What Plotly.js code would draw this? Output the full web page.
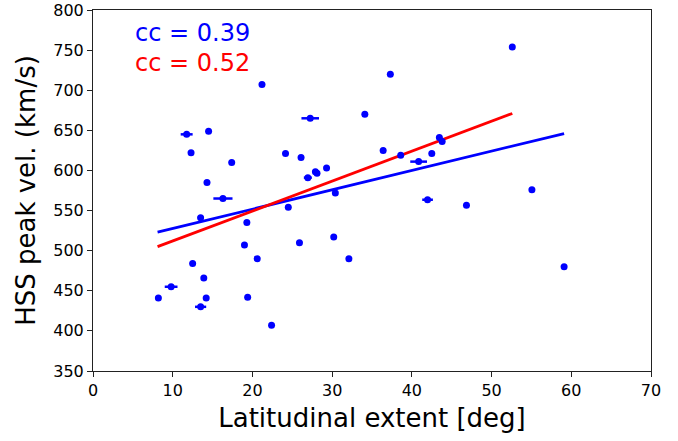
<!DOCTYPE html>
<html>
<head>
<meta charset="utf-8">
<script src="https://cdn.plot.ly/plotly-3.0.1.min.js"></script>
<style>html,body{margin:0;padding:0;background:#fff;}#chart{width:678px;height:441px;}</style>
</head>
<body>
<div id="chart"></div>
<script>
// Latitudinal extent [deg]
const latExtent = [8.2, 9.8, 12.5, 13.9, 14.2, 13.5, 13.5, 14.3, 16.3, 19.3, 19.0, 20.6, 19.4, 22.4, 24.5, 25.9,
  21.2, 11.75, 14.5, 12.3, 17.4, 24.15, 26.1, 26.95, 27.25, 52.6, 37.3, 34.1, 43.45, 43.8, 36.4, 38.6, 42.5,
  40.85, 29.3, 27.9, 28.1, 30.4, 41.97, 55.06, 30.2, 32.1, 46.85, 59.1];
// HSS peak velocity (km/s)
const peakVel = [441, 455, 484, 466, 441, 430, 541, 585, 565, 535, 507, 490, 442, 407, 554, 510,
  707, 645, 649, 622, 610, 621, 616, 591, 665, 754, 720, 670, 641, 636, 625, 619, 621,
  611, 603, 598.5, 596.5, 572, 563.5, 576, 517, 490, 556.5, 480];
// x error (deg)
const latErr = [0, 0.8, 0, 0, 0, 0.7, 0.35, 0, 1.2, 0, 0, 0, 0, 0, 0, 0,
  0, 0.75, 0, 0, 0, 0, 0, 0.5, 1.1, 0, 0, 0, 0, 0, 0, 0, 0,
  1.05, 0, 0, 0, 0, 0.67, 0, 0, 0, 0, 0];
// fit lines
const blueFitX = [8.1, 59.1];
const blueFitY = [523, 646];
const redFitX = [8.1, 52.6];
const redFitY = [505, 671];
// correlation labels
const ccBlue = "cc = 0.39";
const ccRed = "cc = 0.52";
const xTicks = [0, 10, 20, 30, 40, 50, 60, 70];
const yTicks = [350, 400, 450, 500, 550, 600, 650, 700, 750, 800];

const font = "DejaVu Sans, sans-serif";
const traces = [
  {x: blueFitX, y: blueFitY, mode: "lines", line: {color: "#0000ff", width: 2.8}, hoverinfo: "skip"},
  {x: redFitX, y: redFitY, mode: "lines", line: {color: "#ff0000", width: 2.8}, hoverinfo: "skip"},
  {x: latExtent, y: peakVel, mode: "markers", type: "scatter",
   marker: {color: "#0000ff", size: 7},
   error_x: {type: "data", array: latErr, visible: true, color: "#0000ff", thickness: 2.5, width: 0}}
];
const axisCommon = {
  showgrid: false, zeroline: false, showline: true, mirror: true,
  linecolor: "#222", linewidth: 1, ticks: "outside", ticklen: 5, tickwidth: 1, tickcolor: "#222",
  tickfont: {family: font, size: 16, color: "#000"}
};
const layout = {
  width: 678, height: 441,
  margin: {l: 93, r: 27, t: 10, b: 70},
  paper_bgcolor: "#fff", plot_bgcolor: "#fff",
  showlegend: false,
  font: {family: font},
  xaxis: Object.assign({}, axisCommon, {
    range: [0, 70], tickvals: xTicks, ticktext: xTicks.map(String),
    title: {text: "Latitudinal extent [deg]", font: {family: font, size: 26, color: "#000"}, standoff: 9}
  }),
  yaxis: Object.assign({}, axisCommon, {
    range: [350, 800], tickvals: yTicks, ticktext: yTicks.map(String),
    title: {text: "HSS peak vel. (km/s)", font: {family: font, size: 26, color: "#000"}, standoff: 10}
  }),
  annotations: [
    {x: 5, y: 771, xref: "x", yref: "y", text: ccBlue, showarrow: false, xanchor: "left", yanchor: "middle",
     font: {family: font, size: 24, color: "#0000ff"}},
    {x: 5, y: 734, xref: "x", yref: "y", text: ccRed, showarrow: false, xanchor: "left", yanchor: "middle",
     font: {family: font, size: 24, color: "#ff0000"}}
  ]
};
Plotly.newPlot("chart", traces, layout, {staticPlot: true, displayModeBar: false});
</script>
</body>
</html>
